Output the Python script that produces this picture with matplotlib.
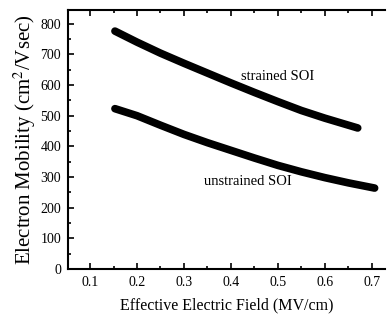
import matplotlib.pyplot as plt
from matplotlib.ticker import MultipleLocator

# values
field_strained = [0.153, 0.2, 0.25, 0.3, 0.35, 0.4, 0.45, 0.5, 0.55, 0.6, 0.67]
mob_strained = [776, 740, 704, 671, 639, 607, 576, 546, 517, 492, 460]

field_unstrained = [0.153, 0.2, 0.25, 0.3, 0.35, 0.4, 0.45, 0.5, 0.55, 0.6, 0.65, 0.706]
mob_unstrained = [523, 500, 469, 439, 412, 387, 362, 338, 317, 298, 281, 264]

x_ticks = [0.1, 0.2, 0.3, 0.4, 0.5, 0.6, 0.7]
y_ticks = [0, 100, 200, 300, 400, 500, 600, 700, 800]

plt.rcParams['font.family'] = ['Liberation Serif', 'DejaVu Serif']
plt.rcParams['mathtext.fontset'] = 'stix'

fig = plt.figure(figsize=(3.87, 3.21), dpi=100)
ax = fig.add_axes([0.1757, 0.162, 0.819, 0.807])

ax.plot(field_strained, mob_strained, color='black', linewidth=5.5, solid_capstyle='round')
ax.plot(field_unstrained, mob_unstrained, color='black', linewidth=5.5, solid_capstyle='round')

ax.text(0.50, 628, 'strained SOI', fontsize=10.5, ha='center', va='center')
ax.text(0.436, 284, 'unstrained SOI', fontsize=10.5, ha='center', va='center')

ax.set_xlim(0.053, 0.728)
ax.set_ylim(0, 845)
ax.set_xticks(x_ticks)
ax.set_xticklabels([str(v) for v in x_ticks])
ax.set_yticks(y_ticks)
ax.xaxis.set_minor_locator(MultipleLocator(0.05))
ax.yaxis.set_minor_locator(MultipleLocator(50))
ax.tick_params(which='both', direction='in', top=True, width=1.2, labelsize=10, pad=5)
ax.tick_params(which='major', length=4)
ax.tick_params(which='minor', length=2)

for side in ['left', 'bottom', 'top']:
    ax.spines[side].set_linewidth(1.5)
ax.spines['right'].set_visible(False)

ax.set_xlabel('Effective Electric Field (MV/cm)', fontsize=11.5, labelpad=6)
ax.set_ylabel('Electron Mobility (cm$^2$/Vsec)', fontsize=15, labelpad=2)

fig.savefig('out.png', dpi=100, facecolor='white')
